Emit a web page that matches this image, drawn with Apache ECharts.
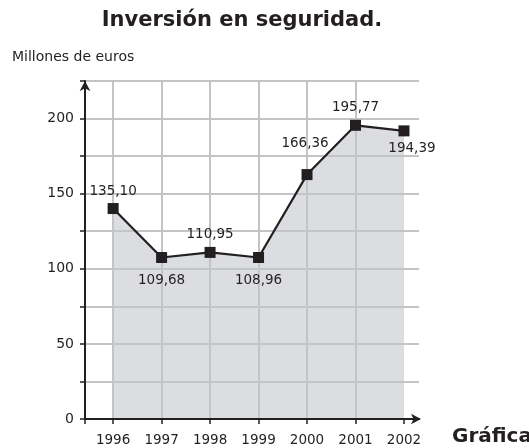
<!DOCTYPE html>
<html>
<head>
<meta charset="utf-8">
<script src="https://cdn.jsdelivr.net/npm/echarts@6/dist/echarts.min.js"></script>
<style>
  html, body { margin: 0; padding: 0; background: #fff; }
  #chart { width: 529px; height: 448px; }
</style>
</head>
<body>
<div id="chart"></div>
<script>
// años y valores (posición dibujada en la gráfica)
var years = [1996, 1997, 1998, 1999, 2000, 2001, 2002];
var values = [140.1, 107.5, 110.9, 107.5, 162.7, 195.5, 191.8];
// etiquetas tal como aparecen en la imagen
var valueLabels = ['135,10', '109,68', '110,95', '108,96', '166,36', '195,77', '194,39'];
var yTicks = [0, 50, 100, 150, 200];

var ink = '#231f20';
var gridGray = '#c3c4c6';
var font = 'DejaVu Sans';

// colocación de cada etiqueta (arriba / abajo)
var labelPlace = [
    { position: 'top', offset: [0, 0] },
    { position: 'bottom', offset: [0, 5] },
    { position: 'top', offset: [0, 0] },
    { position: 'bottom', offset: [0, 5] },
    { position: 'top', offset: [-2, -14] },
    { position: 'top', offset: [0, 0] },
    { position: 'bottom', offset: [8, 0] }
];

var xMin = 1995.42, xMax = 2002.31;

var lineData = years.map(function (y, i) {
    return {
        value: [y, values[i]],
        label: labelPlace[i]
    };
});
var areaData = years.map(function (y, i) { return [y, values[i]]; });

var myChart = echarts.init(document.getElementById('chart'));
myChart.setOption({
    animation: false,
    grid: { left: 85, top: 81, right: 110, bottom: 29, containLabel: false },
    graphic: [
        {
            type: 'text', x: 242, y: 21,
            style: { text: 'Inversión en seguridad.', font: 'bold 21px "DejaVu Sans"', fill: ink, align: 'center', verticalAlign: 'middle' }
        },
        {
            type: 'text', x: 12, y: 57,
            style: { text: 'Millones de euros', font: '14px "DejaVu Sans"', fill: ink, verticalAlign: 'middle' }
        },
        {
            type: 'text', x: 452, y: 437,
            style: { text: 'Gráfica', font: 'bold 20px "DejaVu Sans"', fill: ink, verticalAlign: 'middle' }
        }
    ],
    xAxis: {
        type: 'value',
        min: xMin,
        max: xMax,
        z: 1,
        axisLine: {
            show: true,
            lineStyle: { color: ink, width: 2 },
            symbol: ['none', 'arrow'],
            symbolSize: [8, 10],
            symbolOffset: [0, 2]
        },
        axisTick: {
            show: true, length: 5,
            customValues: [xMin].concat(years),
            lineStyle: { color: ink, width: 1.5 }
        },
        axisLabel: {
            customValues: years,
            formatter: function (v) { return String(v); },
            color: ink, fontFamily: font, fontSize: 13.5, margin: 14
        },
        splitLine: {
            show: true, showMaxLine: false,
            lineStyle: { color: gridGray, width: 2 }
        }
    },
    yAxis: {
        type: 'value',
        min: 0,
        max: 225,
        interval: 25,
        z: 1,
        axisLine: {
            show: true,
            lineStyle: { color: ink, width: 2 },
            symbol: ['none', 'arrow'],
            symbolSize: [8, 10]
        },
        axisTick: { show: true, length: 5, lineStyle: { color: ink, width: 1.5 } },
        axisLabel: {
            color: ink, fontFamily: font, fontSize: 14, margin: 11,
            formatter: function (v) { return yTicks.indexOf(v) >= 0 ? String(v) : ''; }
        },
        splitLine: { show: true, lineStyle: { color: gridGray, width: 2 } }
    },
    series: [
        {
            type: 'line',
            z: 0,
            data: areaData,
            symbol: 'none',
            lineStyle: { width: 0 },
            areaStyle: { color: '#dcdde0', opacity: 1 },
            silent: true
        },
        {
            type: 'line',
            z: 3,
            data: lineData,
            symbol: 'rect',
            symbolSize: 11,
            itemStyle: { color: ink },
            lineStyle: { color: ink, width: 2.2 },
            label: {
                show: true,
                color: ink,
                fontFamily: font,
                fontSize: 13.5,
                distance: 5,
                formatter: function (p) { return valueLabels[p.dataIndex]; }
            }
        }
    ]
});
</script>
</body>
</html>
